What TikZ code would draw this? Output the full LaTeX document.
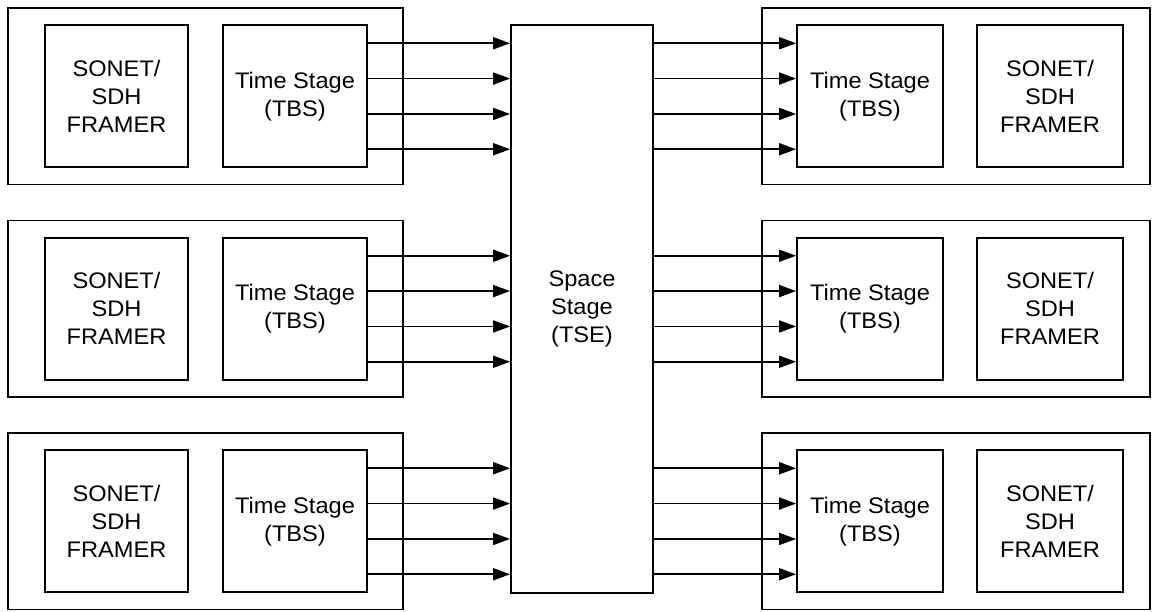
\documentclass[tikz,border=0pt]{standalone}
\usepackage{fontspec}
\setmainfont{Liberation Sans}[FakeStretch=1.05]
\usetikzlibrary{arrows.meta}
\tikzset{
  box/.style={draw, line width=1.8pt, inner sep=0pt, align=center,
    font=\fontsize{22.5}{28}\selectfont},
  outerbox/.style={draw, line width=1.8pt, inner sep=0pt, minimum width=#1, minimum height=176.5pt},
  sig/.style={line width=1.8pt, -{Triangle[length=17pt,width=12pt]}}
}
\begin{document}
\begin{tikzpicture}[x=1pt,y=-1pt]
\useasboundingbox (0,0) rectangle (1158,611);
% central space stage
\node[box, minimum width=142pt, minimum height=568pt] (c) at (582,309) {Space\\Stage\\(TSE)};
\foreach \g/\T in {1/8, 2/220.5, 3/433} {
  \pgfmathsetmacro{\cy}{\T+88.25}
  % left side
  \node[outerbox=395pt] (lo\g) at (205.5,\cy) {};
  \node[box, minimum width=143pt, minimum height=142pt] (lf\g) at (116.5,\cy) {SONET/\\SDH\\FRAMER};
  \node[box, minimum width=144pt, minimum height=142pt] (lt\g) at (295,\cy) {Time Stage\\(TBS)};
  % right side
  \node[outerbox=388pt] (ro\g) at (956,\cy) {};
  \node[box, minimum width=146pt, minimum height=142pt] (rt\g) at (870,\cy) {Time Stage\\(TBS)};
  \node[box, minimum width=146pt, minimum height=142pt] (rf\g) at (1050,\cy) {SONET/\\SDH\\FRAMER};
  \foreach \d in {-53,-17.7,17.7,53} {
    \pgfmathsetmacro{\ay}{\cy+\d}
    \draw[sig] (lt\g.east |- 0,\ay) -- (c.west |- 0,\ay);
    \draw[sig] (c.east |- 0,\ay) -- (rt\g.west |- 0,\ay);
  }
}
\end{tikzpicture}
\end{document}
